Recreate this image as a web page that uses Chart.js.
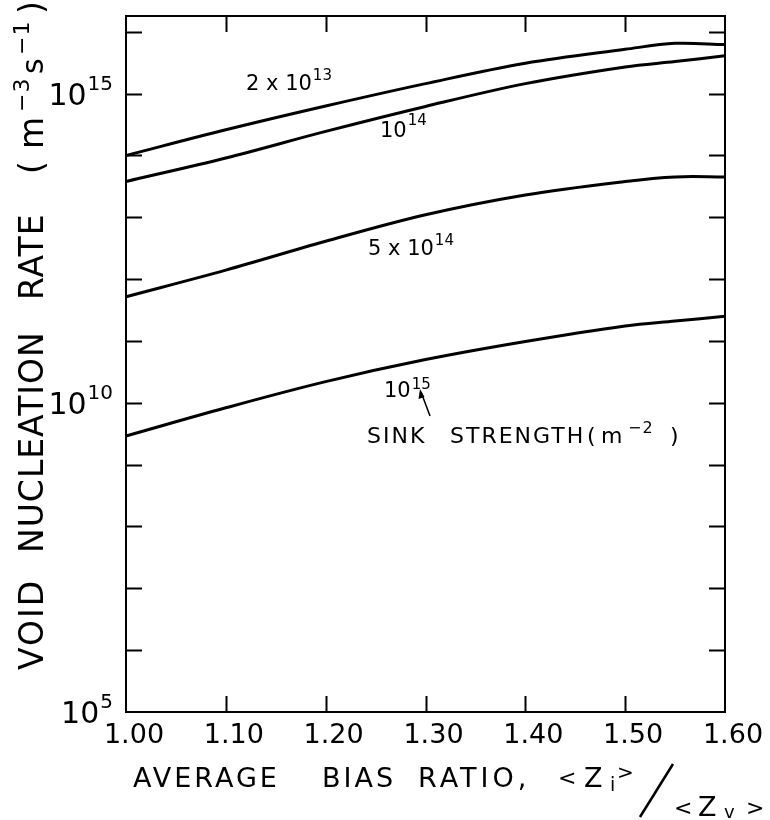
<!DOCTYPE html>
<html>
<head>
<meta charset="utf-8">
<script src="https://cdn.jsdelivr.net/npm/chart.js@4.4.1/dist/chart.umd.min.js"></script>
<style>
  html, body { margin: 0; padding: 0; background: #fff; }
  #wrap { width: 770px; height: 820px; }
</style>
</head>
<body>
<div id="wrap"><canvas id="chart" width="770" height="820"></canvas></div>
<script>
// Void nucleation rate vs. average bias ratio, one curve per sink strength
const biasRatio = [1.00, 1.10, 1.20, 1.30, 1.40, 1.50, 1.55, 1.60];
const rateSink2e13 = [1.0e14, 2.6e14, 6.3e14, 1.45e15, 3.1e15, 5.2e15, 6.5e15, 6.2e15];
const rateSink1e14 = [3.8e13, 9.1e13, 2.45e14, 6.2e14, 1.45e15, 2.7e15, 3.3e15, 4.1e15];
const rateSink5e14 = [5.2e11, 1.4e12, 4.1e12, 1.1e13, 2.3e13, 3.8e13, 4.5e13, 4.5e13];
const rateSink1e15 = [2.9e9, 8.3e9, 2.2e10, 5.0e10, 9.8e10, 1.75e11, 2.1e11, 2.5e11];

const xTickValues = [1.00, 1.10, 1.20, 1.30, 1.40, 1.50, 1.60];
const xTickLabels = ['1.00', '1.10', '1.20', '1.30', '1.40', '1.50', '1.60'];
const yDecades = [5, 6, 7, 8, 9, 10, 11, 12, 13, 14, 15, 16];
const yLabelDecades = [5, 10, 15];

const FONT = '"DejaVu Sans", sans-serif';
const INK = '#000';

function toPoints(ys) {
    return biasRatio.map((x, i) => ({ x: x, y: ys[i] }));
}

function curve(ys) {
    return {
        data: toPoints(ys),
        borderColor: INK,
        borderWidth: 3,
        pointRadius: 0,
        fill: false,
        tension: 0.35
    };
}

// base text with a raised exponent, left edge at x
function textWithSup(ctx, base, sup, x, baseY, baseSize, supSize, supY, spacing) {
    ctx.font = `${baseSize}px ${FONT}`;
    ctx.letterSpacing = (spacing || 0) + 'px';
    ctx.textAlign = 'left';
    ctx.textBaseline = 'alphabetic';
    ctx.fillText(base, x, baseY);
    const w = ctx.measureText(base).width;
    ctx.font = `${supSize}px ${FONT}`;
    ctx.fillText(sup, x + w + 1, supY);
    ctx.letterSpacing = '0px';
}

function word(ctx, text, x, y, size, spacing) {
    ctx.font = `${size}px ${FONT}`;
    ctx.letterSpacing = (spacing || 0) + 'px';
    ctx.textAlign = 'left';
    ctx.textBaseline = 'alphabetic';
    ctx.fillText(text, x, y);
    ctx.letterSpacing = '0px';
}

const frameAndLabels = {
    id: 'frameAndLabels',
    afterDraw(chart) {
        const ctx = chart.ctx;
        const area = chart.chartArea;
        const xs = chart.scales.x;
        const ys = chart.scales.y;
        const tick = 16;

        ctx.save();
        ctx.strokeStyle = INK;
        ctx.fillStyle = INK;

        // frame
        ctx.lineWidth = 2;
        ctx.strokeRect(area.left, area.top, area.right - area.left, area.bottom - area.top);

        // inward ticks on all four sides
        ctx.beginPath();
        xTickValues.slice(1, -1).forEach(v => {
            const px = Math.round(xs.getPixelForValue(v)) + 0.5;
            ctx.moveTo(px, area.bottom);
            ctx.lineTo(px, area.bottom - tick);
            ctx.moveTo(px, area.top);
            ctx.lineTo(px, area.top + tick);
        });
        yDecades.slice(1).forEach(e => {
            const py = Math.round(ys.getPixelForValue(Math.pow(10, e))) + 0.5;
            ctx.moveTo(area.left, py);
            ctx.lineTo(area.left + tick, py);
            ctx.moveTo(area.right, py);
            ctx.lineTo(area.right - tick, py);
        });
        ctx.stroke();

        // x tick labels
        ctx.font = `27px ${FONT}`;
        ctx.textAlign = 'center';
        ctx.textBaseline = 'alphabetic';
        xTickValues.forEach((v, i) => {
            ctx.fillText(xTickLabels[i], xs.getPixelForValue(v) + 8, area.bottom + 31);
        });

        // y tick labels: 10^n, right edge near the axis
        yLabelDecades.forEach(e => {
            const py = ys.getPixelForValue(Math.pow(10, e));
            ctx.font = `30px ${FONT}`;
            const wb = ctx.measureText('10').width;
            ctx.font = `20px ${FONT}`;
            const ws = ctx.measureText(String(e)).width;
            const x0 = area.left - 13 - ws - 1 - wb;
            textWithSup(ctx, '10', String(e), x0, py + 11, 30, 20, py - 4);
        });

        // curve labels
        textWithSup(ctx, '2 x 10', '13', 246, 90, 21, 15, 80);
        textWithSup(ctx, '10', '14', 380, 137, 21, 15, 125);
        textWithSup(ctx, '5 x 10', '14', 368, 255, 21, 15, 245);
        textWithSup(ctx, '10', '15', 384, 397, 21, 15, 389);

        // arrow from the sink strength note to the 10^15 label
        ctx.lineWidth = 1.5;
        ctx.beginPath();
        ctx.moveTo(430, 416);
        ctx.lineTo(421, 392);
        ctx.stroke();
        ctx.beginPath();
        ctx.moveTo(420, 389);
        ctx.lineTo(418.5, 399);
        ctx.lineTo(424.5, 397);
        ctx.closePath();
        ctx.fill();

        word(ctx, 'SINK', 367, 443, 22, 2);
        word(ctx, 'STRENGTH', 450, 443, 22, 2);
        word(ctx, '(', 587, 443, 22);
        word(ctx, 'm', 601, 443, 22);
        word(ctx, '\u22122', 628, 433, 16, 1);
        word(ctx, ')', 670, 443, 22);

        // x axis title
        const tb = 787;
        word(ctx, 'AVERAGE', 133, tb, 27, 3);
        word(ctx, 'BIAS', 322, tb, 27, 3);
        word(ctx, 'RATIO,', 418, tb, 27, 4);
        word(ctx, '<', 558, tb - 2, 22);
        word(ctx, 'Z', 584, tb, 27);
        word(ctx, 'i', 610, tb + 4, 19);
        word(ctx, '>', 617, tb - 8, 20);
        ctx.lineWidth = 2.5;
        ctx.beginPath();
        ctx.moveTo(673, 764);
        ctx.lineTo(640, 817);
        ctx.stroke();
        word(ctx, '<', 674, 815, 22);
        word(ctx, 'Z', 698, 816, 27);
        word(ctx, 'v', 724, 818, 18);
        word(ctx, '>', 746, 815, 22);

        // y axis title, reading upward
        ctx.save();
        ctx.translate(43, 0);
        ctx.rotate(-Math.PI / 2);
        word(ctx, 'VOID', -670, 0, 33, 2);
        word(ctx, 'NUCLEATION', -553, 0, 33, 1);
        word(ctx, 'RATE', -300, 0, 33, 1);
        word(ctx, '(', -174, 0, 33);
        word(ctx, 'm', -149, 0, 33);
        word(ctx, '\u22123', -112, -14, 22, 1);
        word(ctx, 's', -74, 0, 30);
        word(ctx, '\u22121', -55, -14, 22, 1);
        word(ctx, ')', -14, 0, 33);
        ctx.restore();

        ctx.restore();
    }
};

new Chart(document.getElementById('chart'), {
    type: 'line',
    data: {
        datasets: [
            curve(rateSink2e13),
            curve(rateSink1e14),
            curve(rateSink5e14),
            curve(rateSink1e15)
        ]
    },
    options: {
        responsive: false,
        devicePixelRatio: 1,
        animation: false,
        layout: { padding: { left: 126, top: 16, right: 45, bottom: 108 } },
        plugins: {
            legend: { display: false },
            tooltip: { enabled: false }
        },
        scales: {
            x: { type: 'linear', min: 1.0, max: 1.6, display: false },
            y: { type: 'logarithmic', min: 1e5, max: 1.8e16, display: false }
        }
    },
    plugins: [frameAndLabels]
});
</script>
</body>
</html>
